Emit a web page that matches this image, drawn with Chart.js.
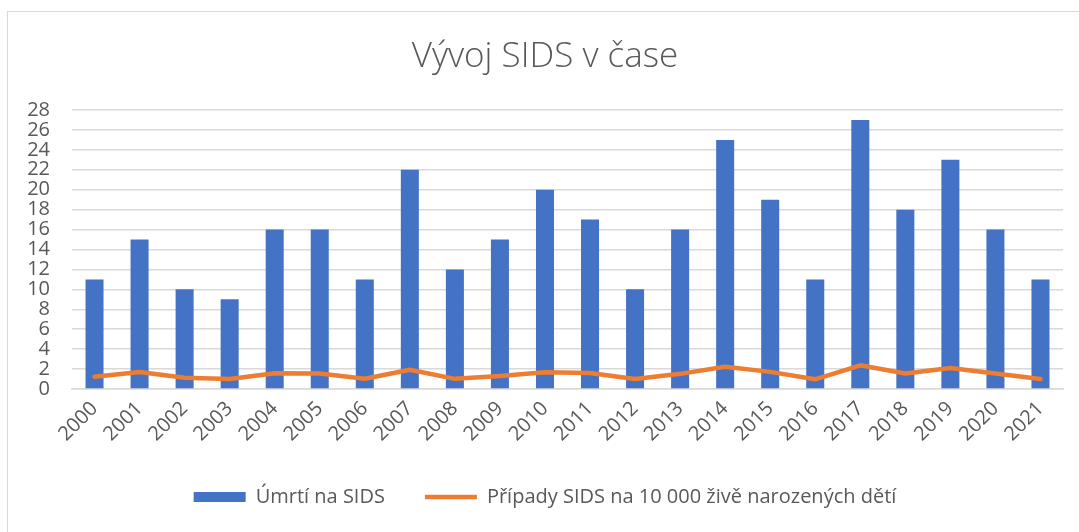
<!DOCTYPE html>
<html>
<head>
<meta charset="utf-8">
<script src="https://cdn.jsdelivr.net/npm/chart.js@4.4.0/dist/chart.umd.min.js"></script>
<style>
  html, body { margin: 0; padding: 0; background: #fff; }
  #ramec {
    position: absolute; left: 7px; top: 11px; width: 1100px; height: 560px;
    border-left: 1.5px solid #d9d9d9; border-top: 1.5px solid #d9d9d9;
  }
  #obal { position: absolute; left: 0; top: 0; width: 1079px; height: 532px; }
</style>
</head>
<body>
<div id="ramec"></div>
<div id="obal"><canvas id="grafico"></canvas></div>
<script>
// roky
const roky = ['2000', '2001', '2002', '2003', '2004', '2005', '2006', '2007', '2008', '2009', '2010',
    '2011', '2012', '2013', '2014', '2015', '2016', '2017', '2018', '2019', '2020', '2021'];
// úmrtí na SIDS
const umrti = [11, 15, 10, 9, 16, 16, 11, 22, 12, 15, 20, 17, 10, 16, 25, 19, 11, 27, 18, 23, 16, 11];
// případy na 10 000 živě narozených dětí
const pripady = [1.22, 1.7, 1.12, 1.0, 1.58, 1.56, 1.03, 1.93, 1.02, 1.3, 1.68,
    1.6, 1.0, 1.52, 2.24, 1.72, 0.97, 2.38, 1.56, 2.1, 1.55, 1.0];
const tickyY = [0, 2, 4, 6, 8, 10, 12, 14, 16, 18, 20, 22, 24, 26, 28];

const pismo = "'Open Sans', 'Noto Sans', sans-serif";
const sedaText = '#595959';

const datos1 = {
    type: 'bar',
    label: 'Úmrtí na SIDS',
    data: umrti,
    backgroundColor: '#4472c4',
    barPercentage: 0.4,
    categoryPercentage: 1,
    pointStyle: 'rect',
    order: 1
};
const datos2 = {
    type: 'line',
    label: 'Případy SIDS na 10 000 živě narozených dětí',
    data: pripady,
    borderColor: '#ed7d31',
    backgroundColor: '#ed7d31',
    borderWidth: 4.5,
    pointRadius: 0,
    pointStyle: 'line',
    borderCapStyle: 'round',
    borderJoinStyle: 'round',
    tension: 0,
    order: 0
};

const config = {
    data: {
        labels: roky,
        datasets: [datos1, datos2]
    },
    options: {
        responsive: true,
        maintainAspectRatio: false,
        animation: false,
        layout: {
            padding: { left: 27, right: 16, top: 36, bottom: 15 }
        },
        plugins: {
            title: {
                display: true,
                text: 'Vývoj SIDS v čase',
                color: sedaText,
                font: { family: pismo, size: 35, weight: '300', lineHeight: 1.2 },
                padding: { top: 0, bottom: 32 }
            },
            legend: {
                position: 'bottom',
                labels: {
                    color: sedaText,
                    font: { family: pismo, size: 20 },
                    usePointStyle: true,
                    pointStyleWidth: 52,
                    boxHeight: 10,
                    padding: 40,
                    sort: (a, b) => a.datasetIndex - b.datasetIndex
                }
            },
            tooltip: { enabled: false }
        },
        scales: {
            x: {
                grid: { display: false },
                border: { display: true, color: '#d9d9d9', width: 1.5 },
                ticks: {
                    color: sedaText,
                    font: { family: pismo, size: 20 },
                    minRotation: 45,
                    maxRotation: 45,
                    padding: 0
                },
                afterFit: (osa) => { osa.height = 58; }
            },
            y: {
                min: 0,
                max: 28,
                afterBuildTicks: (osa) => { osa.ticks = tickyY.map(v => ({ value: v })); },
                afterFit: (osa) => { osa.width = 45; },
                grid: { color: '#d9d9d9', lineWidth: 1.5, drawTicks: false },
                border: { display: false },
                ticks: {
                    color: sedaText,
                    font: { family: pismo, size: 20 },
                    padding: 22,
                    autoSkip: false
                }
            }
        }
    }
};

const migrafico = document.getElementById('grafico');
new Chart(migrafico, config);
</script>
</body>
</html>
